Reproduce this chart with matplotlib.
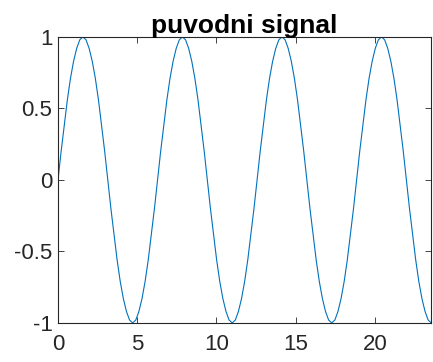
import numpy as np
import matplotlib.pyplot as plt

plt.rcParams["font.family"] = ["Liberation Sans", "DejaVu Sans"]

# sampled signal, one sample every pi/16 seconds
dt = np.pi / 16
signal = [
    0, 0.20, 0.38, 0.56, 0.71, 0.83, 0.92, 0.98, 1, 0.98, 0.92, 0.83, 0.71, 0.56, 0.38, 0.20,
    0, -0.20, -0.38, -0.56, -0.71, -0.83, -0.92, -0.98, -1, -0.98, -0.92, -0.83, -0.71, -0.56, -0.38, -0.20,
    0, 0.20, 0.38, 0.56, 0.71, 0.83, 0.92, 0.98, 1, 0.98, 0.92, 0.83, 0.71, 0.56, 0.38, 0.20,
    0, -0.20, -0.38, -0.56, -0.71, -0.83, -0.92, -0.98, -1, -0.98, -0.92, -0.83, -0.71, -0.56, -0.38, -0.20,
    0, 0.20, 0.38, 0.56, 0.71, 0.83, 0.92, 0.98, 1, 0.98, 0.92, 0.83, 0.71, 0.56, 0.38, 0.20,
    0, -0.20, -0.38, -0.56, -0.71, -0.83, -0.92, -0.98, -1, -0.98, -0.92, -0.83, -0.71, -0.56, -0.38, -0.20,
    0, 0.20, 0.38, 0.56, 0.71, 0.83, 0.92, 0.98, 1, 0.98, 0.92, 0.83, 0.71, 0.56, 0.38, 0.20,
    0, -0.20, -0.38, -0.56, -0.71, -0.83, -0.92, -0.98, -1,
]
t = np.arange(len(signal)) * dt

xticks = [0, 5, 10, 15, 20]
yticks = [-1, -0.5, 0, 0.5, 1]
ytick_labels = ["-1", "-0.5", "0", "0.5", "1"]

fig = plt.figure(figsize=(4.33, 3.62), dpi=100)
ax = fig.add_axes([0.134, 0.108, 0.862, 0.790])

ax.plot(t, signal, color="#0072BD", linewidth=0.8)

ax.set_xlim(t[0], t[-1])
ax.set_ylim(-1, 1)
ax.set_xticks(xticks)
ax.set_yticks(yticks)
ax.set_yticklabels(ytick_labels)
ax.set_title("puvodni signal", fontsize=19, fontweight="bold", pad=3)

ax.tick_params(direction="in", length=4, width=0.6, colors="#262626",
               labelsize=16, top=True, right=True)
ax.tick_params(axis="x", pad=8)
ax.tick_params(axis="y", pad=4)
for side in ax.spines.values():
    side.set_color("#262626")
    side.set_linewidth(0.8)

fig.savefig("out.png", dpi=100)
